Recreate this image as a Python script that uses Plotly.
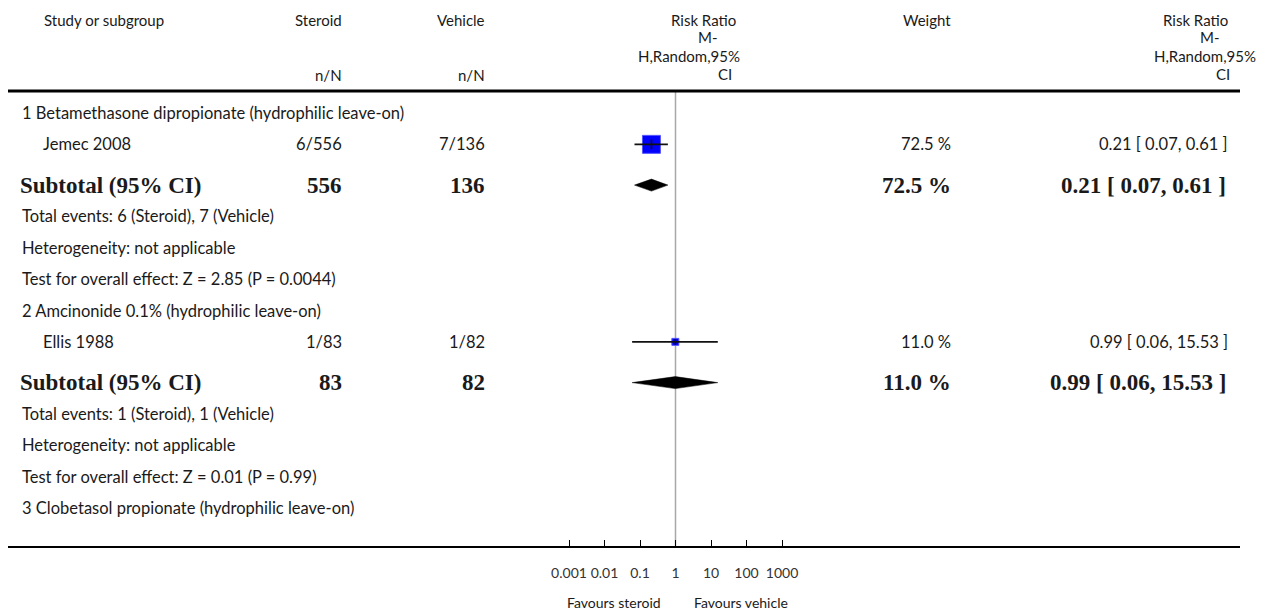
import math
import plotly.graph_objects as go

# ---------------- data ----------------
group_titles = [
    "1 Betamethasone dipropionate (hydrophilic leave-on)",
    "2 Amcinonide 0.1% (hydrophilic leave-on)",
    "3 Clobetasol propionate (hydrophilic leave-on)",
]
study_names = ["Jemec 2008", "Ellis 1988"]
study_group = [0, 1]
steroid_events = [6, 1]
steroid_total = [556, 83]
vehicle_events = [7, 1]
vehicle_total = [136, 82]
rr_est = [0.21, 0.99]
rr_low = [0.07, 0.06]
rr_high = [0.61, 15.53]
weights = [72.5, 11.0]
z_values = ["2.85", "0.01"]
p_values = ["0.0044", "0.99"]
tick_values = [0.001, 0.01, 0.1, 1, 10, 100, 1000]
tick_labels = ["0.001", "0.01", "0.1", "1", "10", "100", "1000"]

# ---------------- layout constants (reference-page pixels) ----------------
PAGE_W, PAGE_H = 1268, 613
BODY_MARGIN = 8            # browser default body margin
W, H = PAGE_W - BODY_MARGIN, PAGE_H - BODY_MARGIN
PL, PR = 8, 1240           # plot area left/right px on page
PT, PB = 91, 546           # plot area top/bottom px on page
ROW = 31.35                # px per row unit
FIRST_ROW_PX = 113
BODY = "Lato"
SERIF = "Liberation Serif"
TXT = "#1a1a1a"
BODY_SIZE = 16.5
HEAD_SIZE = 15
BOLD_SIZE = 23
PAD = 3                    # annotation box inset compensation

LOG_PER_PX = 1 / 35.5
ONE_PX = 675.5
x_range = [(PL - ONE_PX) * LOG_PER_PX, (PR - ONE_PX) * LOG_PER_PX]
y_top = (PT - FIRST_ROW_PX) / ROW
y_bot = y_top + (PB - PT) / ROW


def px_x(px):
    return (px - PL) / (PR - PL)


def px_y(py):
    return (PB - py) / (PB - PT)


# ---------------- build rows ----------------
rows = []
y = 0.0
first = True
for g, title in enumerate(group_titles):
    if not first:
        y += 1
    first = False
    rows.append(("group", g, y))
    idx = [i for i, sg in enumerate(study_group) if sg == g]
    if not idx:
        continue
    for i in idx:
        y += 1
        rows.append(("study", i, y))
    y += 1.3
    rows.append(("subtotal", idx[0], y))
    y += 1
    rows.append(("events", idx[0], y))
    y += 1
    rows.append(("het", idx[0], y))
    y += 1
    rows.append(("test", idx[0], y))

fig = go.Figure()
annotations = []


def text(xpx, yv, s, anchor="left", size=BODY_SIZE, family=BODY, yref="y", color=TXT):
    if anchor == "right":
        xpx += PAD
    elif anchor == "left":
        xpx -= 2
    annotations.append(dict(
        x=px_x(xpx), xref="paper", y=yv, yref=yref, text=s, showarrow=False,
        xanchor=anchor, yanchor="middle", font=dict(family=family, size=size, color=color),
    ))


for kind, i, yv in rows:
    if kind == "group":
        text(22, yv, group_titles[i])
    elif kind == "study":
        text(43, yv, study_names[i])
        text(341, yv, f"{steroid_events[i]}/{steroid_total[i]}", "right")
        text(484, yv, f"{vehicle_events[i]}/{vehicle_total[i]}", "right")
        text(950, yv, f"{weights[i]:.1f} %", "right")
        text(1227, yv, f"{rr_est[i]:.2f} [ {rr_low[i]:.2f}, {rr_high[i]:.2f} ]", "right")
        sq = 2.11 * math.sqrt(weights[i])
        fig.add_trace(go.Scatter(
            x=[rr_est[i]], y=[yv], mode="markers",
            marker=dict(symbol="square", size=sq, color="#0000ff", line=dict(color="#5555ff", width=1)),
            hoverinfo="skip", showlegend=False))
        fig.add_trace(go.Scatter(
            x=[rr_low[i], rr_high[i]], y=[yv, yv], mode="lines",
            line=dict(color="#111111", width=1.6), hoverinfo="skip", showlegend=False))
        fig.add_trace(go.Scatter(
            x=[rr_est[i]], y=[yv], mode="markers",
            marker=dict(symbol="line-ns", size=min(7, 0.6 * sq), line=dict(color="#111111", width=1.6)),
            hoverinfo="skip", showlegend=False))
    elif kind == "subtotal":
        text(20, yv, "<b>Subtotal (95% CI)</b>", size=BOLD_SIZE, family=SERIF)
        text(341, yv, f"<b>{steroid_total[i]}</b>", "right", size=BOLD_SIZE, family=SERIF)
        text(484, yv, f"<b>{vehicle_total[i]}</b>", "right", size=BOLD_SIZE, family=SERIF)
        text(950, yv, f"<b>{weights[i]:.1f} %</b>", "right", size=BOLD_SIZE, family=SERIF)
        text(1225, yv, f"<b>{rr_est[i]:.2f} [ {rr_low[i]:.2f}, {rr_high[i]:.2f} ]</b>", "right",
             size=BOLD_SIZE, family=SERIF)
        h = 6 / ROW
        fig.add_trace(go.Scatter(
            x=[rr_low[i], rr_est[i], rr_high[i], rr_est[i], rr_low[i]],
            y=[yv, yv - h, yv, yv + h, yv], mode="lines", fill="toself",
            fillcolor="#000000", line=dict(color="#000000", width=0.5),
            hoverinfo="skip", showlegend=False))
    elif kind == "events":
        text(22, yv, f"Total events: {steroid_events[i]} (Steroid), {vehicle_events[i]} (Vehicle)")
    elif kind == "het":
        text(22, yv, "Heterogeneity: not applicable")
    elif kind == "test":
        g = study_group[i]
        text(22, yv, f"Test for overall effect: Z = {z_values[g]} (P = {p_values[g]})")

# headers
hdr = [
    (44, 20, "Study or subgroup", "left"),
    (341, 20, "Steroid", "right"),
    (484, 20, "Vehicle", "right"),
    (341, 75, "n/N", "right"),
    (484, 75, "n/N", "right"),
    (703, 20, "Risk Ratio", "center"),
    (708, 37, "M-", "center"),
    (689, 56, "H,Random,95%", "center"),
    (725, 74, "CI", "center"),
    (950, 20, "Weight", "right"),
    (1227, 20, "Risk Ratio", "right"),
    (1219, 37, "M-", "right"),
    (1255, 56, "H,Random,95%", "right"),
    (1229, 74, "CI", "right"),
]
for xpx, ypx, s, a in hdr:
    text(xpx, px_y(ypx), s, a, size=HEAD_SIZE, yref="paper")

# axis footer labels
text(660, px_y(602), "Favours steroid", "right", size=14, yref="paper")
text(694, px_y(602), "Favours vehicle", "left", size=14, yref="paper")

shapes = [
    dict(type="line", xref="paper", yref="paper", x0=0, x1=1, y0=1, y1=1,
         line=dict(color="#000000", width=3)),
    dict(type="line", xref="x", yref="paper", x0=1, x1=1, y0=0, y1=1,
         line=dict(color="#a8a8a8", width=1.5), layer="below"),
]

fig.update_layout(
    width=W, height=H,
    margin=dict(l=PL - BODY_MARGIN, r=PAGE_W - PR, t=PT - BODY_MARGIN, b=PAGE_H - PB, pad=0),
    paper_bgcolor="white", plot_bgcolor="white",
    showlegend=False,
    annotations=annotations,
    shapes=shapes,
    xaxis=dict(type="log", range=x_range, tickvals=tick_values, ticktext=tick_labels,
               ticks="inside", ticklen=6, tickwidth=1, tickcolor="#000000",
               showline=True, linecolor="#000000", linewidth=2, showgrid=False, zeroline=False,
               ticklabelstandoff=13,
               tickfont=dict(family=BODY, size=14, color="#333333"), fixedrange=True),
    yaxis=dict(range=[y_bot, y_top], visible=False, showgrid=False, zeroline=False, fixedrange=True),
)

fig.write_html("out.html")
